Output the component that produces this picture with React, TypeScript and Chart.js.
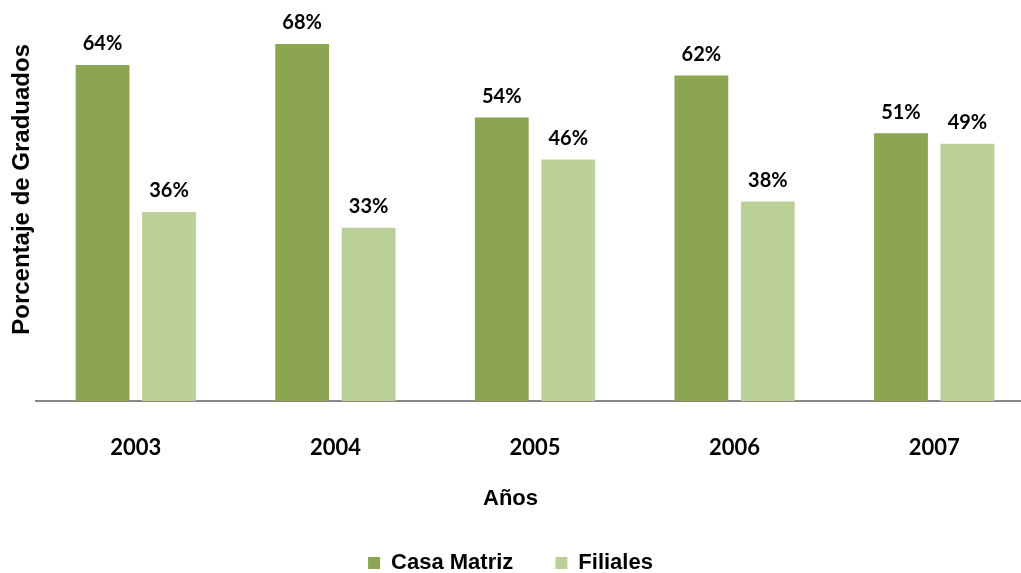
import React, { useEffect, useRef } from "react";
import { Chart, registerables } from "chart.js";

Chart.register(...registerables);

const years = ["2003", "2004", "2005", "2006", "2007"];
const casaMatriz = [64, 68, 54, 62, 51];
const filiales = [36, 33, 46, 38, 49];
const seriesNames = ["Casa Matriz", "Filiales"];
const yTitle = "Porcentaje de Graduados";
const xTitle = "Años";

const ARIAL = '"Liberation Sans", Arial, sans-serif';
const CALIBRI = 'Lato, "Open Sans", sans-serif';

export default function App() {
  const ref = useRef<HTMLCanvasElement>(null);

  useEffect(() => {
    if (!ref.current) return;

    const valueLabels = {
      id: "valueLabels",
      afterDatasetsDraw(chart: any) {
        const ctx = chart.ctx;
        ctx.save();
        ctx.font = `bold 20px ${CALIBRI}`;
        ctx.fillStyle = "#000000";
        ctx.textAlign = "center";
        ctx.textBaseline = "middle";
        chart.data.datasets.forEach((ds: any, di: number) => {
          const meta = chart.getDatasetMeta(di);
          meta.data.forEach((el: any, i: number) => {
            const v = ds.data[i].y;
            ctx.fillText(`${v}%`, el.x, el.y - 21);
          });
        });
        ctx.restore();
      },
    };

    const chart = new Chart(ref.current, {
      type: "bar",
      data: {
        datasets: [
          {
            label: seriesNames[0],
            data: casaMatriz.map((v, i) => ({ x: i, y: v })),
            backgroundColor: "#8BA550",
            borderWidth: 0,
          },
          {
            label: seriesNames[1],
            data: filiales.map((v, i) => ({ x: i, y: v })),
            backgroundColor: "#BBD097",
            borderWidth: 0,
          },
        ],
      },
      options: {
        animation: false,
        responsive: false,
        devicePixelRatio: 1,
        layout: { padding: { top: 44, left: 0, right: 0, bottom: 0 } },
        datasets: {
          bar: { categoryPercentage: 0.666, barPercentage: 0.81 },
        },
        scales: {
          x: {
            type: "linear",
            offset: false,
            min: -0.5,
            max: -0.5 + 985 / 199.6,
            grid: { display: false },
            border: { display: true, color: "#888888", width: 2 },
            afterBuildTicks: (scale: any) => {
              scale.ticks = years.map((_, i) => ({ value: i }));
            },
            ticks: {
              autoSkip: false,
              maxRotation: 0,
              minRotation: 0,
              padding: 26,
              color: "#000000",
              font: { family: CALIBRI, size: 22, weight: "bold" },
              callback: (value: any) => {
                const idx = Math.round(Number(value));
                return years[idx] ?? "";
              },
            },
            afterFit: (scale: any) => {
              scale.height = 75.4;
            },
          },
          y: {
            min: 0,
            max: 68,
            grid: { display: false },
            border: { display: false },
            ticks: { display: false },
            title: {
              display: true,
              text: yTitle,
              align: "end",
              color: "#000000",
              padding: { top: 8, bottom: 0 },
              font: { family: ARIAL, size: 24, weight: "bold" },
            },
            afterFit: (scale: any) => {
              scale.width = 36;
            },
          },
        },
        plugins: {
          tooltip: { enabled: false },
          title: {
            display: true,
            text: xTitle,
            position: "bottom",
            weight: 500,
            color: "#000000",
            padding: { top: 9.4, bottom: -2.2 },
            font: { family: ARIAL, size: 22, weight: "bold" },
          },
          legend: {
            display: true,
            position: "bottom",
            labels: {
              boxWidth: 12,
              boxHeight: 12,
              padding: 42,
              color: "#000000",
              font: { family: ARIAL, size: 22, weight: "bold" },
            },
          },
        },
      } as any,
      plugins: [valueLabels],
    });

    return () => chart.destroy();
  }, []);

  return (
    <div
      style={{
        position: "absolute",
        left: 0,
        top: 0,
        width: 1021,
        height: 573,
        overflow: "hidden",
        background: "#ffffff",
      }}
    >
      <canvas ref={ref} width={1021} height={584} style={{ display: "block" }} />
    </div>
  );
}
